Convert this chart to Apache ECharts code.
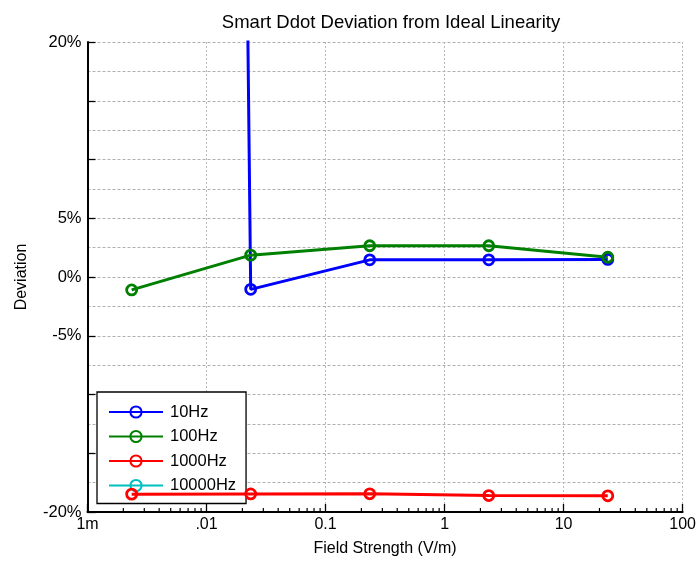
<!DOCTYPE html>
<html>
<head>
<meta charset="utf-8">
<script src="https://cdn.jsdelivr.net/npm/echarts@6/dist/echarts.min.js"></script>
<style>html,body{margin:0;padding:0;background:#fff}#c{width:699px;height:563px}</style>
</head>
<body>
<div id="c"></div>
<script>
// ---- data ----
const seriesNames = ['10Hz', '100Hz', '1000Hz', '10000Hz'];
const fieldStrength = [0.00235, 0.0235, 0.235, 2.35, 23.5];
const dev10Hz = [900, -1.05, 1.46, 1.46, 1.5];
const dev100Hz = [-1.1, 1.86, 2.66, 2.66, 1.68];
const dev1000Hz = [-18.48, -18.46, -18.45, -18.6, -18.62];
const dev10000Hz = [null, null, null, null, null];
const xTickValues = [0.001, 0.01, 0.1, 1, 10, 100];
const xTickLabels = ['1m', '.01', '0.1', '1', '10', '100'];
const yLabelValues = [20, 5, 0, -5, -20];
const yLabelTexts = ['20%', '5%', '0%', '-5%', '-20%'];
const xMinorTicks = [0.002,0.003,0.004,0.005,0.006,0.007,0.008,0.009,
  0.02,0.03,0.04,0.05,0.06,0.07,0.08,0.09,
  0.2,0.3,0.4,0.5,0.6,0.7,0.8,0.9,
  2,3,4,5,6,7,8,9,
  20,30,40,50,60,70,80,90];
const colors = ['#0000ff', '#008000', '#ff0000', '#00bfbf'];

const Y_MIN = -20, Y_MAX = 20;
const FONT = "'Liberation Sans', Arial, Helvetica, sans-serif";

function pairs(vals) { return fieldStrength.map((x, i) => [x, vals[i]]); }
const allVals = [dev10Hz, dev100Hz, dev1000Hz, dev10000Hz];

const chart = echarts.init(document.getElementById('c'), null, { renderer: 'canvas' });

const lineSeries = seriesNames.map((name, i) => ({
  name: name,
  type: 'line',
  data: pairs(allVals[i]),
  symbol: 'circle',
  symbolSize: 10,
  showAllSymbol: true,
  color: colors[i],
  lineStyle: { width: 3, color: colors[i] },
  itemStyle: { color: 'rgba(255,255,255,0)', borderColor: colors[i], borderWidth: 2.8 },
  emphasis: { disabled: true },
  clip: true,
  animation: false,
  z: i === 2 ? 6 : 3
}));

const option = {
  animation: false,
  textStyle: { fontFamily: FONT },
  title: {
    text: 'Smart Ddot Deviation from Ideal Linearity',
    left: 386, top: 8, textAlign: 'center',
    textStyle: { fontFamily: FONT, fontSize: 18.5, fontWeight: 'normal', color: '#000' }
  },
  legend: {
    data: seriesNames,
    orient: 'vertical',
    left: 97, top: 392,
    padding: [11, 10, 9, 11],
    itemWidth: 54, itemHeight: 14, itemGap: 6.5,
    backgroundColor: '#fff', borderColor: '#000', borderWidth: 1.3,
    textStyle: { fontFamily: FONT, fontSize: 16.5, color: '#000', lineHeight: 18, padding: [0, 0, 0, 2] },
    selectedMode: false,
    z: 4
  },
  grid: { left: 87.5, right: 16, top: 42, bottom: 51, containLabel: false },
  xAxis: {
    type: 'log', logBase: 10, min: 0.001, max: 100,
    name: 'Field Strength (V/m)', nameLocation: 'middle', nameGap: 29,
    nameTextStyle: { fontFamily: FONT, fontSize: 16, color: '#000' },
    axisLine: { show: true, onZero: false, lineStyle: { color: '#000', width: 2 } },
    axisTick: { show: true, inside: true, length: 8, lineStyle: { color: '#000', width: 1.3 } },
    axisLabel: {
      fontFamily: FONT, fontSize: 16, color: '#000', margin: 5,
      formatter: v => { const k = xTickValues.findIndex(t => Math.abs(Math.log10(t) - Math.log10(v)) < 1e-6); return k >= 0 ? xTickLabels[k] : ''; }
    },
    splitLine: { show: true, lineStyle: { color: '#b8b8b8', width: 1, type: [2, 2] } }
  },
  yAxis: {
    type: 'value', min: Y_MIN, max: Y_MAX, interval: 5,
    name: 'Deviation', nameLocation: 'middle', nameGap: 58, nameRotate: 90,
    nameTextStyle: { fontFamily: FONT, fontSize: 16, color: '#000' },
    axisLine: { show: true, onZero: false, lineStyle: { color: '#000', width: 2 } },
    axisTick: { show: true, inside: true, length: 8, lineStyle: { color: '#000', width: 1.3 } },
    axisLabel: {
      fontFamily: FONT, fontSize: 16.5, color: '#000', margin: 6,
      formatter: v => { const k = yLabelValues.indexOf(v); return k >= 0 ? yLabelTexts[k] : ''; }
    },
    minorTick: { show: false, splitNumber: 2 },
    splitLine: { show: true, lineStyle: { color: '#b0b0b0', width: 1, type: [3, 2] } },
    minorSplitLine: { show: true, lineStyle: { color: '#b0b0b0', width: 1, type: [3, 2] } }
  },
  series: lineSeries.concat([{
    name: 'minorTicks',
    type: 'custom',
    silent: true,
    animation: false,
    clip: false,
    z: 5,
    data: xMinorTicks.map(v => [v, Y_MIN]),
    renderItem: (params, api) => {
      const p = api.coord([api.value(0), Y_MIN]);
      return { type: 'line', shape: { x1: p[0], y1: p[1], x2: p[0], y2: p[1] - 4 },
               style: { stroke: '#000', lineWidth: 1.2 } };
    }
  }])
};
chart.setOption(option);
</script>
</body>
</html>
